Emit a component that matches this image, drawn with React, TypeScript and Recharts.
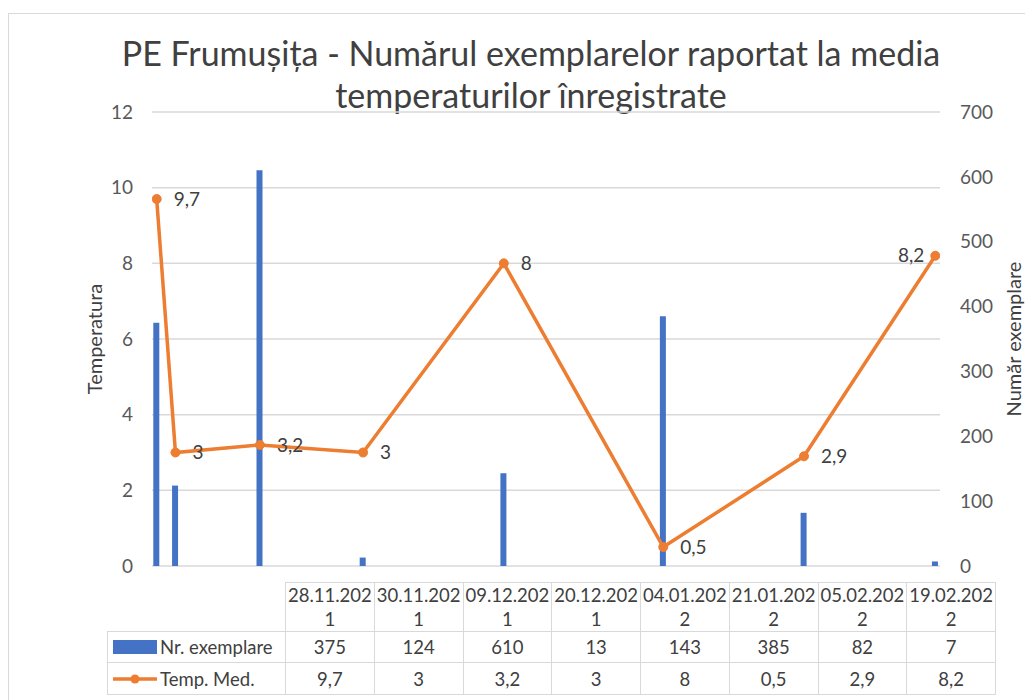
import { ComposedChart, Bar, Line, XAxis, YAxis, CartesianGrid, LabelList } from 'recharts'

const dates = ['28.11.2021', '30.11.2021', '09.12.2021', '20.12.2021', '04.01.2022', '21.01.2022', '05.02.2022', '19.02.2022']
const exemplare = [375, 124, 610, 13, 143, 385, 82, 7]
const tempMed = [9.7, 3, 3.2, 3, 8, 0.5, 2.9, 8.2]
const tempTicks = [0, 2, 4, 6, 8, 10, 12]
const countTicks = [0, 100, 200, 300, 400, 500, 600, 700]

const BLUE = '#4472C4'
const ORANGE = '#ED7D31'
const TEXT = '#595959'
const BORDER = '#D9D9D9'
const FONT = 'Lato, "Open Sans", sans-serif'

// Excel used a date axis, so the points sit at their real day offsets
const toTime = (d: string) => {
  const [dd, mm, yy] = d.split('.').map(Number)
  return Date.UTC(yy, mm - 1, dd)
}
const t0 = toTime(dates[0])
const data = dates.map((d, i) => ({
  date: d,
  day: (toTime(d) - t0) / 86400000,
  exemplare: exemplare[i],
  temp: tempMed[i],
}))
const lastDay = data[data.length - 1].day

const fmt = (v: number) => String(v).replace('.', ',')

const TempLabel = (props: any) => {
  const { x, y, value, index } = props
  const left = index === data.length - 1
  return (
    <text
      x={left ? x - 11 : x + 17}
      y={y}
      dy="0.35em"
      textAnchor={left ? 'end' : 'start'}
      fontSize={19}
      fill="#404040"
      fontFamily={FONT}
    >
      {fmt(value)}
    </text>
  )
}

const cell: React.CSSProperties = {
  border: `1px solid ${BORDER}`,
  padding: 0,
  textAlign: 'center',
  fontSize: 18.5,
  color: '#404040',
  whiteSpace: 'nowrap',
}

function DataTable() {
  return (
    <table
      style={{
        position: 'absolute',
        left: 107,
        top: 582,
        borderCollapse: 'collapse',
        tableLayout: 'fixed',
        width: 888,
        fontFamily: FONT,
      }}
    >
      <colgroup>
        <col style={{ width: 178 }} />
        {dates.map((d) => (
          <col key={d} style={{ width: 88.75 }} />
        ))}
      </colgroup>
      <tbody>
        <tr style={{ height: 48 }}>
          <td style={{ ...cell, borderTop: 'none', borderLeft: 'none' }} />
          {dates.map((d) => (
            // the narrow columns wrap the year after its third digit
            <td key={d} style={{ ...cell, lineHeight: '24px' }}>
              {d.slice(0, 9)}
              <br />
              {d.slice(9)}
            </td>
          ))}
        </tr>
        <tr style={{ height: 31 }}>
          <td style={{ ...cell, textAlign: 'left' }}>
            <span style={{ display: 'inline-flex', alignItems: 'center' }}>
              <span style={{ display: 'inline-block', width: 44, height: 14, background: BLUE, margin: '0 3px 0 5px' }} />
              Nr. exemplare
            </span>
          </td>
          {exemplare.map((v, i) => (
            <td key={i} style={cell}>{v}</td>
          ))}
        </tr>
        <tr style={{ height: 32 }}>
          <td style={{ ...cell, textAlign: 'left' }}>
            <span style={{ display: 'inline-flex', alignItems: 'center' }}>
              <svg width={44} height={14} style={{ margin: '0 3px 0 5px' }}>
                <line x1={0} y1={7} x2={44} y2={7} stroke={ORANGE} strokeWidth={3.5} />
                <circle cx={22} cy={7} r={4.5} fill={ORANGE} />
              </svg>
              Temp. Med.
            </span>
          </td>
          {tempMed.map((v, i) => (
            <td key={i} style={cell}>{fmt(v)}</td>
          ))}
        </tr>
      </tbody>
    </table>
  )
}

export default function App() {
  return (
    <div
      style={{
        position: 'fixed',
        left: 0,
        top: 0,
        width: 1025,
        height: 700,
        overflow: 'hidden',
        background: '#fff',
        fontFamily: FONT,
      }}
    >
      <div
        style={{
          position: 'absolute',
          left: 8,
          top: 13,
          width: 1200,
          height: 1000,
          border: `1px solid ${BORDER}`,
        }}
      />
      <div
        style={{
          position: 'absolute',
          left: 0,
          top: 32,
          width: 1062,
          textAlign: 'center',
          fontSize: 34,
          lineHeight: '42px',
          color: '#404040',
        }}
      >
        <div>PE Frumușița - Numărul exemplarelor raportat la media</div>
        <div>temperaturilor înregistrate</div>
      </div>
      <div style={{ position: 'absolute', left: 0, top: 0 }}>
        <ComposedChart
          width={1100}
          height={700}
          data={data}
          margin={{ top: 112, right: 12, bottom: 134, left: 38 }}
          style={{ fontFamily: FONT }}
        >
          <CartesianGrid vertical={false} stroke={BORDER} strokeWidth={1.5} yAxisId="left" />
          <XAxis
            dataKey="day"
            type="number"
            domain={[-0.5, lastDay + 0.5]}
            allowDataOverflow
            hide
          />
          <YAxis
            yAxisId="left"
            width={114}
            domain={[0, 12]}
            ticks={tempTicks}
            axisLine={false}
            tickLine={false}
            tickMargin={13}
            tick={{ fontSize: 19, fill: TEXT }}
            label={{ value: 'Temperatura', angle: -90, position: 'center', fontSize: 20, fill: '#404040' }}
          />
          <YAxis
            yAxisId="right"
            orientation="right"
            width={148}
            domain={[0, 700]}
            ticks={countTicks}
            axisLine={false}
            tickLine={false}
            tickMargin={14}
            tick={{ fontSize: 19, fill: TEXT }}
            label={{ value: 'Număr exemplare', angle: -90, position: 'center', fontSize: 20, fill: '#404040' }}
          />
          <Bar yAxisId="right" dataKey="exemplare" fill={BLUE} barSize={6} isAnimationActive={false} />
          <Line
            yAxisId="left"
            dataKey="temp"
            stroke={ORANGE}
            strokeWidth={3.5}
            dot={{ r: 4.5, fill: ORANGE, stroke: ORANGE, strokeWidth: 1 }}
            activeDot={false}
            isAnimationActive={false}
          >
            <LabelList dataKey="temp" content={TempLabel} />
          </Line>
        </ComposedChart>
      </div>
      <DataTable />
    </div>
  )
}
